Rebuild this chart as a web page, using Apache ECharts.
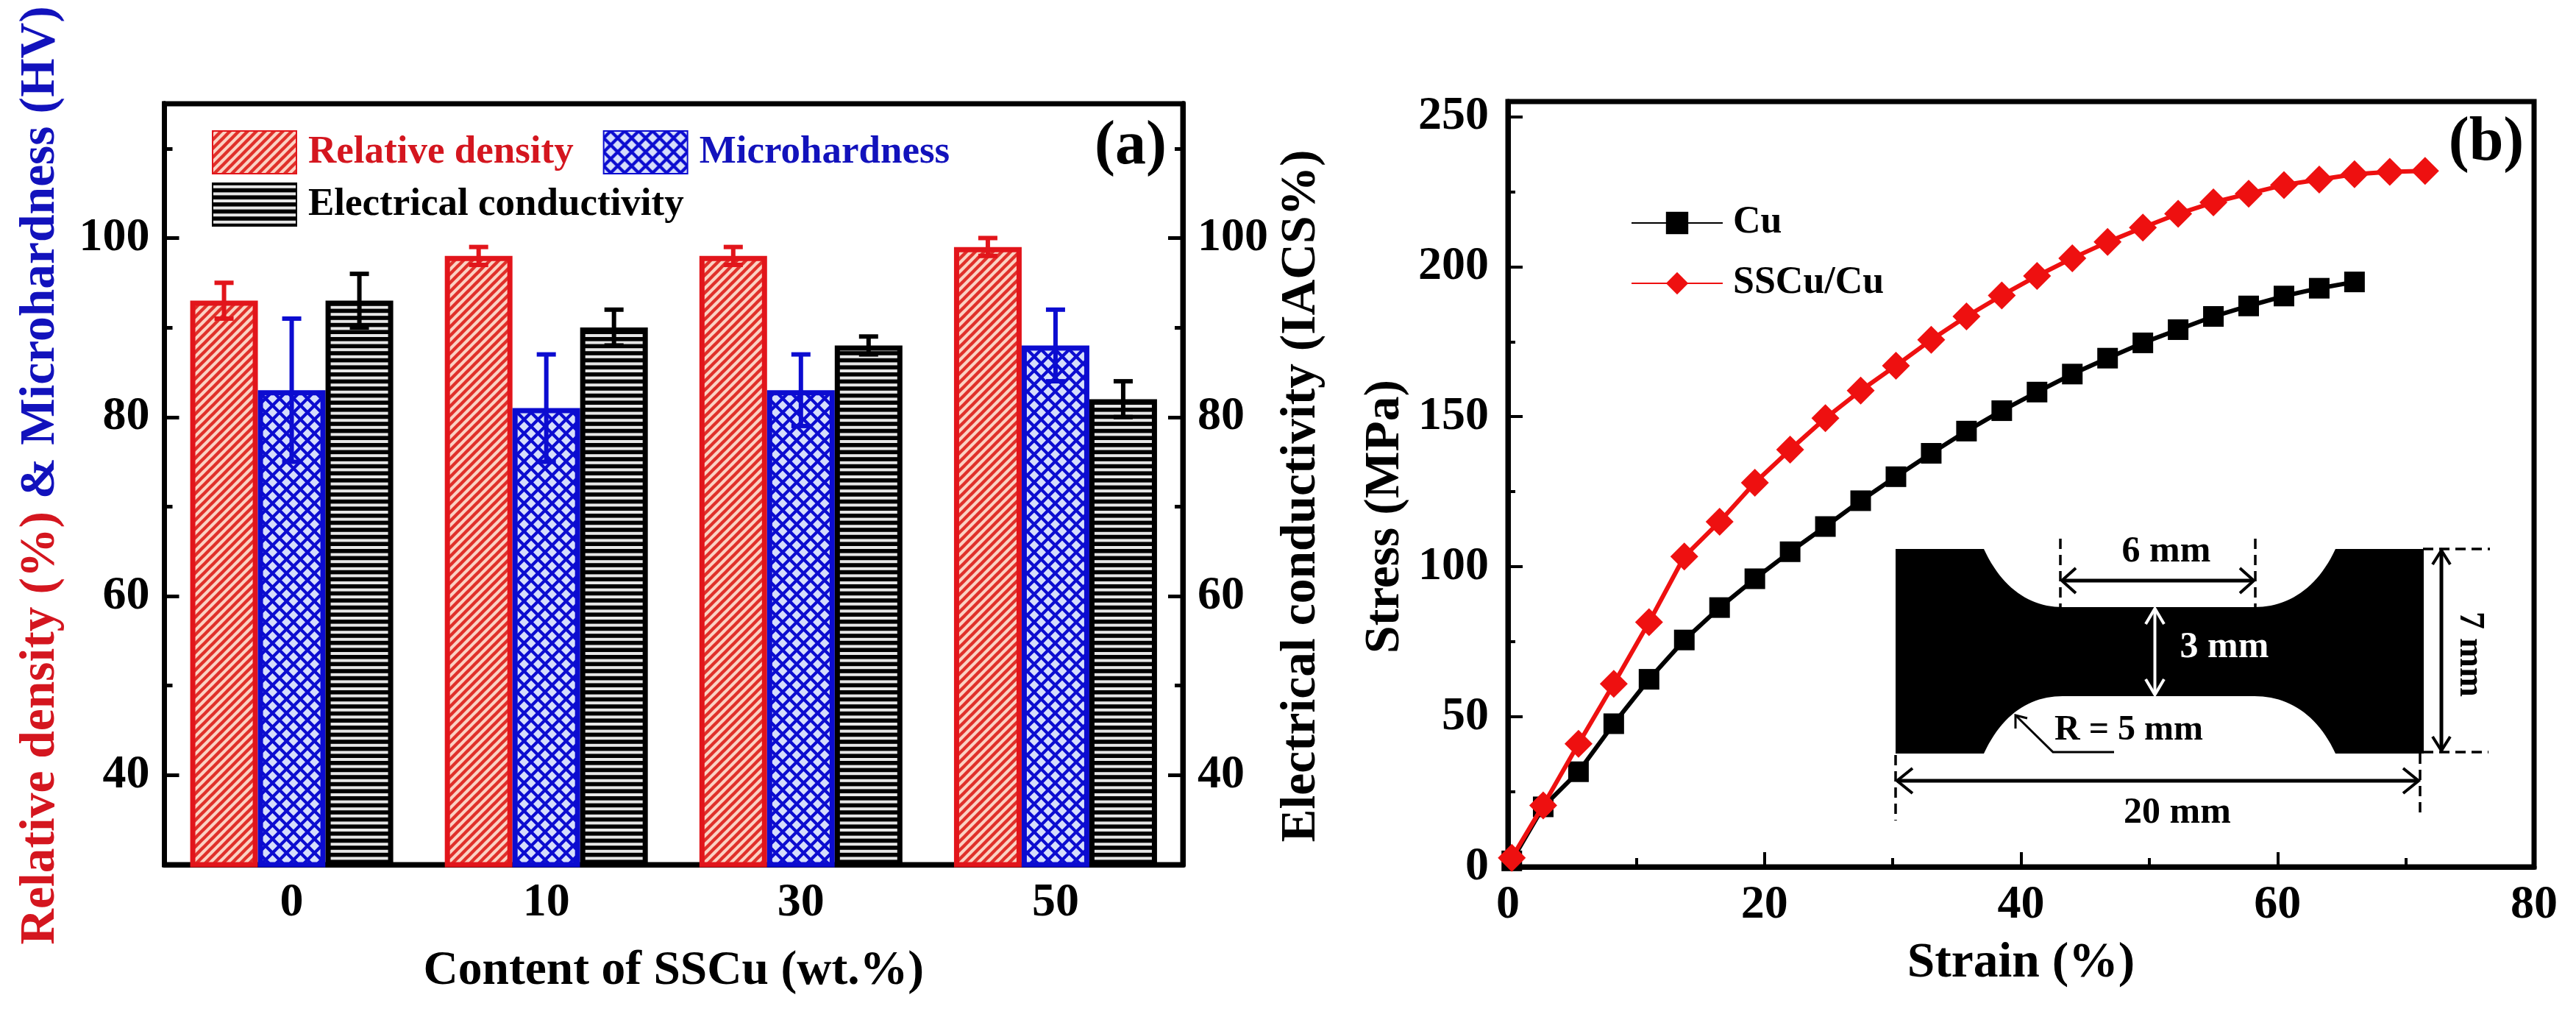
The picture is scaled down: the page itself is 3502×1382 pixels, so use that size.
<!DOCTYPE html>
<html>
<head>
<meta charset="utf-8">
<style>html,body{margin:0;padding:0;background:#fff}#c{width:3502px;height:1382px}</style>
<script src="https://cdn.jsdelivr.net/npm/echarts@6/dist/echarts.min.js"></script>
</head>
<body>
<div id="c"></div>
<script>
// ---- Panel (a) data
const contents = ['0', '10', '30', '50'];
const density = [93, 98, 98, 99];
const densityHi = [95, 99, 99, 100];
const densityLo = [91, 97, 97, 98];
const hardness = [83, 81, 83, 88];
const hardnessHi = [91, 87, 87, 92];
const hardnessLo = [75, 75, 79, 84];
const conductivity = [93, 90, 88, 82];
const conductivityHi = [96, 92, 89, 84];
const conductivityLo = [90, 88, 87, 80];
const majorTicksA = [40, 60, 80, 100];
const minorTicksA = [50, 70, 90, 110];

// ---- Panel (b) data
const cuStrain = [0.3, 2.75, 5.5, 8.25, 11, 13.75, 16.5, 19.25, 22, 24.75, 27.5, 30.25, 33, 35.75, 38.5, 41.25, 44, 46.75, 49.5, 52.25, 55, 57.75, 60.5, 63.25, 66];
const cuStress = [2, 20, 31.7, 47.7, 62.5, 75.6, 86.4, 96, 105, 113.4, 122, 130, 137.8, 145.2, 152, 158.2, 164.2, 169.5, 174.6, 179, 183.4, 186.9, 190.2, 192.8, 194.9];
const ssStrain = [0.3, 2.75, 5.5, 8.25, 11, 13.75, 16.5, 19.25, 22, 24.75, 27.5, 30.25, 33, 35.75, 38.5, 41.25, 44, 46.75, 49.5, 52.25, 55, 57.75, 60.5, 63.25, 66, 68.75, 71.5];
const ssStress = [3, 20.5, 41, 61, 81.5, 103.4, 115, 128, 139, 149.5, 158.7, 167, 175.6, 183.4, 190.4, 196.9, 202.8, 208.2, 213, 217.6, 221.4, 224.3, 227.2, 229, 230.8, 231.6, 231.9];
const majorTicksB = [0, 50, 100, 150, 200, 250];
const minorTicksB = [25, 75, 125, 175, 225];

const FONT = '"Liberation Serif"';
const RED = '#e2151b', BLUE = '#0c0cd0', BLACK = '#000000';
const TXT_RED = '#d4161f', TXT_BLUE = '#1212bc';

function tile(w, h, draw) {
  const c = document.createElement('canvas');
  c.width = w; c.height = h;
  draw(c.getContext('2d'), w, h);
  return { image: c, repeat: 'repeat' };
}
const redHatch = tile(12, 12, (g, w, h) => {
  g.fillStyle = '#fbd2c4'; g.fillRect(0, 0, w, h);
  g.strokeStyle = '#e0302a'; g.lineWidth = 4.4;
  for (const o of [-12, 0, 12]) { g.beginPath(); g.moveTo(o - 2, h + 2); g.lineTo(o + w + 2, -2); g.stroke(); }
});
const blueHatch = tile(19, 19, (g, w, h) => {
  g.fillStyle = BLUE; g.fillRect(0, 0, w, h);
  g.fillStyle = '#d6defc';
  const d = (x, y) => { g.beginPath(); g.moveTo(x - 6.5, y); g.lineTo(x, y - 6.5); g.lineTo(x + 6.5, y); g.lineTo(x, y + 6.5); g.closePath(); g.fill(); };
  d(9.5, 9.5); d(0, 0); d(19, 0); d(0, 19); d(19, 19);
});
const blackHatch = tile(4, 48, (g, w, h) => {
  g.fillStyle = '#000'; g.fillRect(0, 0, w, h);
  g.fillStyle = '#e6e6e6';
  for (let i = 0; i < 5; i++) g.fillRect(0, i * 9.6 + 2.8, w, 4);
});

function barSeries(name, values, fill, border, yIdx) {
  return {
    type: 'bar', name, data: values, xAxisIndex: 0, yAxisIndex: yIdx,
    barWidth: 92, barGap: '0%',
    itemStyle: { color: fill, borderColor: border, borderWidth: 7 },
    z: 2
  };
}
function errSeries(hi, lo, color, slot) {
  return {
    type: 'custom', xAxisIndex: 0, yAxisIndex: 0, z: 4, clip: false,
    encode: { x: 0, y: [1, 2] },
    data: contents.map((c, i) => [i, hi[i], lo[i]]),
    renderItem(params, api) {
      const off = slot * 92;
      const i = api.value(0);
      const top = api.coord([i, api.value(1)]);
      const bot = api.coord([i, api.value(2)]);
      const x = top[0] + off;
      const style = { stroke: color, lineWidth: 6, fill: null };
      const seg = (x1, y1, x2, y2) => ({ type: 'line', shape: { x1, y1, x2, y2 }, style });
      return { type: 'group', children: [seg(x, top[1], x, bot[1]), seg(x - 13, top[1], x + 13, top[1]), seg(x - 13, bot[1], x + 13, bot[1])] };
    }
  };
}

const tickLabel = { fontFamily: FONT, fontWeight: 'bold', fontSize: 64, color: '#000' };
const spine = { show: true, onZero: false, lineStyle: { color: '#000', width: 7 } };
const nameStyle = { fontFamily: FONT, fontWeight: 'bold', fontSize: 67.5, color: '#000' };

function yAxisA(position, ticks, len, labelled, extra) {
  return Object.assign({
    type: 'value', gridIndex: 0, position, min: 30, max: 115,
    axisLine: spine, splitLine: { show: false },
    axisTick: { show: true, inside: true, length: len, customValues: ticks, lineStyle: { color: '#000', width: 5 } },
    axisLabel: labelled ? Object.assign({ show: true, margin: 20, customValues: ticks }, tickLabel) : { show: false }
  }, extra || {});
}

const txt = (text, x, y, fontSize, extra) => ({
  type: 'text', z: 30, x, y,
  style: Object.assign({ text, fontFamily: FONT, fontWeight: 'bold', fontSize, fill: '#000', align: 'center', verticalAlign: 'middle' }, extra && extra.style || {}),
  rotation: extra && extra.rotation || 0
});
const ln = (x1, y1, x2, y2, o) => ({
  type: 'line', z: 30, shape: { x1, y1, x2, y2 },
  style: Object.assign({ stroke: '#000', lineWidth: 4 }, o || {})
});
const poly = (points, o) => ({
  type: 'polyline', z: 30, shape: { points },
  style: Object.assign({ stroke: '#000', lineWidth: 4, fill: null }, o || {})
});
const DASH = { lineDash: [14, 8], lineWidth: 3.5 };

// Outline of the tensile specimen in the inset
function curve(p0, c1, c2, p1) {
  const out = [];
  for (let k = 0; k <= 24; k++) {
    const t = k / 24, u = 1 - t;
    out.push([
      u*u*u*p0[0] + 3*u*u*t*c1[0] + 3*u*t*t*c2[0] + t*t*t*p1[0],
      u*u*u*p0[1] + 3*u*u*t*c1[1] + 3*u*t*t*c2[1] + t*t*t*p1[1]
    ]);
  }
  return out;
}
const specimen = [[2577, 746]].concat(
  curve([2697, 746], [2722, 800], [2760, 825], [2804, 825]),
  curve([3065, 825], [3110, 825], [3150, 800], [3175, 746]),
  [[3295, 746], [3295, 1024]],
  curve([3175, 1024], [3150, 970], [3110, 946], [3065, 946]),
  curve([2804, 946], [2760, 946], [2722, 970], [2697, 1024]),
  [[2577, 1024]]
);

const option = {
  animation: false,
  backgroundColor: '#ffffff',
  grid: [
    { left: 223.5, top: 141, width: 1384.5, height: 1034, show: true, borderColor: '#000', borderWidth: 7, backgroundColor: 'transparent' },
    { left: 2050, top: 138, width: 1395, height: 1040, show: true, borderColor: '#000', borderWidth: 7, backgroundColor: 'transparent' }
  ],
  legend: [
    {
      left: 283, top: 172, itemWidth: 114, itemHeight: 58, itemGap: 40, selectedMode: false, icon: 'rect',
      textStyle: { fontFamily: FONT, fontWeight: 'bold', fontSize: 53, padding: [0, 0, 0, 11] },
      data: [{ name: 'Relative density', textStyle: { color: TXT_RED } }, { name: 'Microhardness', textStyle: { color: TXT_BLUE } }]
    },
    {
      left: 283, top: 243, itemWidth: 114, itemHeight: 58, selectedMode: false, icon: 'rect',
      textStyle: { fontFamily: FONT, fontWeight: 'bold', fontSize: 53, color: '#000', padding: [0, 0, 0, 11] },
      data: [{ name: 'Electrical conductivity' }]
    },
    {
      left: 2212, top: 272, orient: 'vertical', itemWidth: 124, itemHeight: 38, itemGap: 30, selectedMode: false,
      textStyle: { fontFamily: FONT, fontWeight: 'bold', fontSize: 52, color: '#000', padding: [0, 0, 0, 9] },
      data: ['Cu', 'SSCu/Cu']
    }
  ],
  xAxis: [
    {
      type: 'category', gridIndex: 0, data: contents, position: 'bottom',
      axisLine: spine, axisTick: { show: false },
      axisLabel: Object.assign({ margin: 20 }, tickLabel),
      name: 'Content of SSCu (wt.%)', nameLocation: 'middle', nameGap: 112, nameTextStyle: Object.assign({}, nameStyle, { fontSize: 65.5 })
    },
    {
      type: 'value', gridIndex: 1, min: 0, max: 80, interval: 20, position: 'bottom',
      axisLine: spine, splitLine: { show: false },
      axisTick: { show: true, inside: true, length: 20, lineStyle: { color: '#000', width: 4 } },
      minorTick: { show: true, splitNumber: 2, length: 12, lineStyle: { color: '#000', width: 4 } },
      axisLabel: Object.assign({ margin: 20 }, tickLabel),
      name: 'Strain (%)', nameLocation: 'middle', nameGap: 98, nameTextStyle: Object.assign({}, nameStyle)
    }
  ],
  yAxis: [
    yAxisA('left', majorTicksA, 20, true, {
      name: '{r|Relative density (%) }{b|& Microhardness (HV)}',
      nameLocation: 'middle', nameRotate: 90, nameGap: 134,
      nameTextStyle: {
        padding: [0, 0, 0, 24],
        rich: {
          r: { fontFamily: FONT, fontWeight: 'bold', fontSize: 67.5, color: TXT_RED },
          b: { fontFamily: FONT, fontWeight: 'bold', fontSize: 67.5, color: TXT_BLUE }
        }
      }
    }),
    yAxisA('right', majorTicksA, 20, true, {
      name: 'Electrical conductivity (IACS%)', nameLocation: 'middle', nameRotate: 90, nameGap: 128,
      nameTextStyle: Object.assign({ padding: [0, 32, 0, 0] }, nameStyle)
    }),
    yAxisA('left', minorTicksA, 11, false),
    yAxisA('right', minorTicksA, 11, false),
    {
      type: 'value', gridIndex: 1, position: 'left', min: 0, max: 255,
      axisLine: spine, splitLine: { show: false },
      axisTick: { show: true, inside: true, length: 20, customValues: majorTicksB, lineStyle: { color: '#000', width: 4 } },
      axisLabel: Object.assign({ margin: 26, customValues: majorTicksB }, tickLabel),
      name: 'Stress (MPa)', nameLocation: 'middle', nameRotate: 90, nameGap: 132,
      nameTextStyle: Object.assign({ padding: [0, 88, 0, 0] }, nameStyle)
    },
    {
      type: 'value', gridIndex: 1, position: 'left', min: 0, max: 255,
      axisLine: { show: false }, splitLine: { show: false },
      axisTick: { show: true, inside: true, length: 10, customValues: minorTicksB, lineStyle: { color: '#000', width: 4 } },
      axisLabel: { show: false }
    }
  ],
  series: [
    barSeries('Relative density', density, redHatch, RED, 0),
    barSeries('Microhardness', hardness, blueHatch, BLUE, 0),
    barSeries('Electrical conductivity', conductivity, blackHatch, BLACK, 1),
    errSeries(densityHi, densityLo, RED, -1),
    errSeries(hardnessHi, hardnessLo, BLUE, 0),
    errSeries(conductivityHi, conductivityLo, BLACK, 1),
    {
      type: 'line', name: 'Cu', xAxisIndex: 1, yAxisIndex: 4, symbol: 'rect', symbolSize: 28, z: 5,
      data: cuStrain.map((s, i) => [s, cuStress[i]]),
      lineStyle: { color: '#000', width: 6 }, itemStyle: { color: '#000' }
    },
    {
      type: 'line', name: 'SSCu/Cu', xAxisIndex: 1, yAxisIndex: 4, symbol: 'diamond', symbolSize: 38, z: 6,
      data: ssStrain.map((s, i) => [s, ssStress[i]]),
      lineStyle: { color: '#ee1010', width: 6 }, itemStyle: { color: '#ee1010' }
    }
  ],
  graphic: [
    txt('(a)', 1537, 200, 84),
    txt('(b)', 3380, 195, 84),
    { type: 'polygon', z: 29, shape: { points: specimen }, style: { fill: '#000' } },
    ln(2801, 732, 2801, 825, DASH), ln(3066, 732, 3066, 825, DASH),
    ln(2803, 789, 3064, 789, { lineWidth: 5 }),
    poly([[2822, 772], [2803, 789], [2822, 806]]), poly([[3045, 772], [3064, 789], [3045, 806]]),
    txt('6 mm', 2945, 750, 50),
    ln(2929.5, 827, 2929.5, 944, { stroke: '#fff' }),
    poly([[2917, 848], [2929.5, 827], [2942, 848]], { stroke: '#fff' }), poly([[2917, 923], [2929.5, 944], [2942, 923]], { stroke: '#fff' }),
    txt('3 mm', 3024, 880, 50, { style: { fill: '#fff' } }),
    poly([[2740, 972], [2791, 1022], [2874, 1022]], { lineWidth: 3 }),
    poly([[2740, 990], [2740, 972], [2756, 976]], { lineWidth: 3 }),
    txt('R = 5 mm', 2894, 993, 48),
    ln(2577, 1026, 2577, 1115, DASH), ln(3290, 1024, 3290, 1110, DASH),
    ln(2579, 1061, 3288, 1061, { lineWidth: 5 }),
    poly([[2600, 1044], [2579, 1061], [2600, 1078]]), poly([[3267, 1044], [3288, 1061], [3267, 1078]]),
    txt('20 mm', 2960, 1105, 50),
    ln(3294, 746, 3385, 746, DASH), ln(3294, 1022, 3383, 1022, DASH),
    ln(3319, 748, 3319, 1020, { lineWidth: 5 }),
    poly([[3307, 767], [3319, 748], [3331, 767]]), poly([[3307, 1001], [3319, 1020], [3331, 1001]]),
    txt('7 mm', 3357, 889, 48, { rotation: -Math.PI / 2 })
  ]
};

const chart = echarts.init(document.getElementById('c'), null, { renderer: 'canvas', devicePixelRatio: 1 });
chart.setOption(option);
</script>
</body>
</html>
